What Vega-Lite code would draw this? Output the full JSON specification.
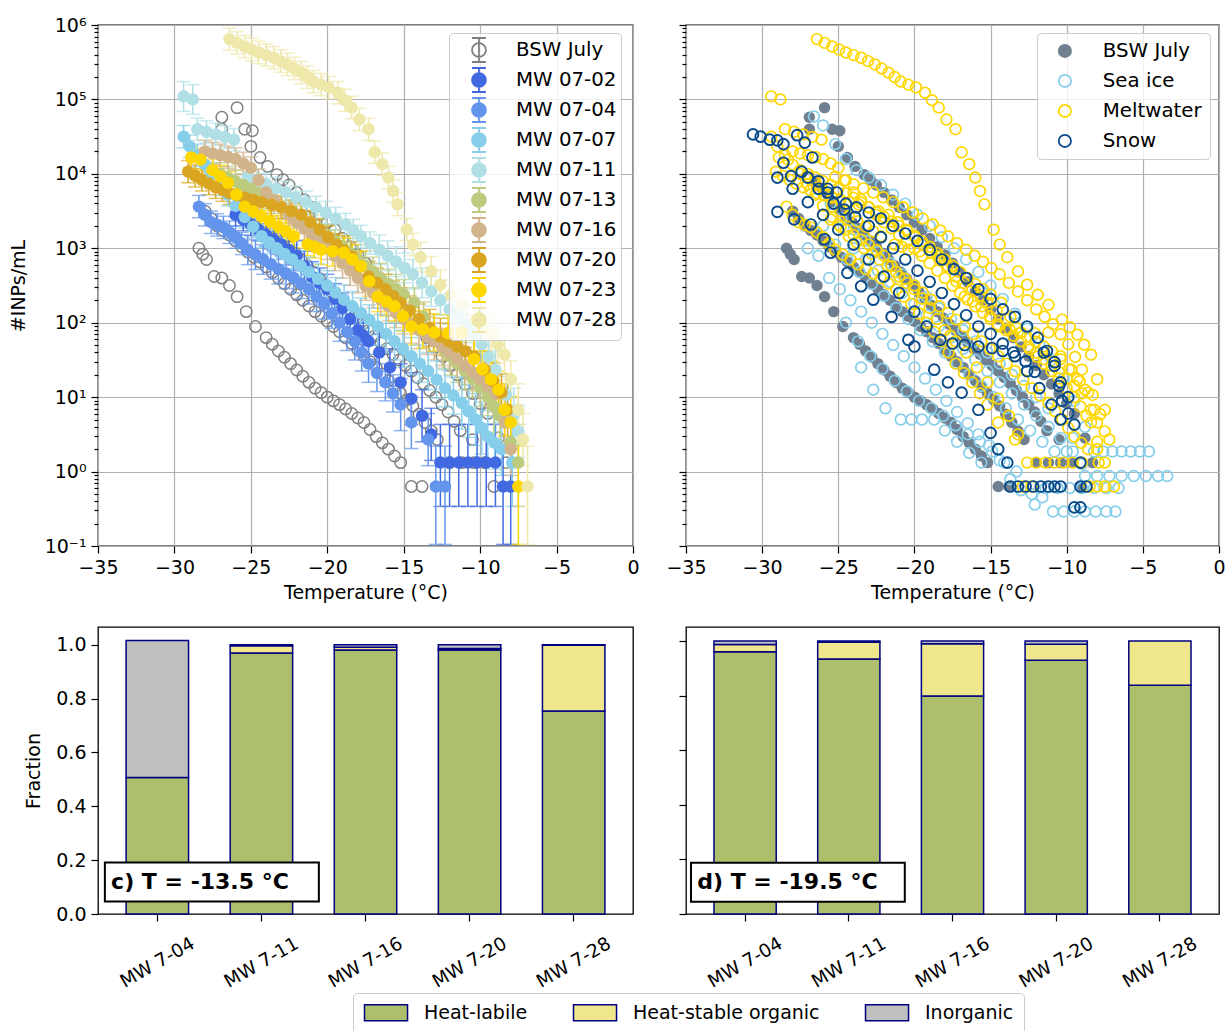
{
"$schema": "https://vega.github.io/schema/vega-lite/v6.json",
"padding": {"left": 8, "top": 15, "right": 0, "bottom": 0},
"background": "white",
"config": {
  "font": "DejaVu Sans",
  "view": {"stroke": "black", "strokeWidth": 1.3},
  "axis": {"labelFont": "DejaVu Sans", "titleFont": "DejaVu Sans", "labelFontSize": 19, "titleFontSize": 19, "titleFontWeight": "normal", "labelColor": "black", "titleColor": "black", "tickColor": "black", "tickWidth": 1.2, "tickSize": 7, "labelPadding": 5, "domain": false, "grid": false, "gridColor": "#b0b0b0", "gridWidth": 1.2, "labelOverlap": false, "labelFlush": false},
  "legend": {"labelFont": "DejaVu Sans", "labelFontSize": 19, "labelColor": "black", "labelLimit": 400}
},
"datasets": {
"bsw": [
{"t":-26.9,"v":57500},{"t":-26.9,"v":39800},{"t":-25.9,"v":77600},{"t":-25.4,"v":39800},{"t":-24.9,"v":38000},{"t":-25.0,"v":23400},{"t":-24.4,"v":16600},{"t":-23.9,"v":12600},{"t":-23.3,"v":9770},{"t":-22.9,"v":8320},{"t":-22.5,"v":7080},{"t":-22.0,"v":5620},{"t":-21.5,"v":4470},{"t":-21.0,"v":3550},{"t":-20.5,"v":2820},{"t":-20.0,"v":2240},{"t":-19.5,"v":1780},{"t":-19.0,"v":1360},{"t":-18.5,"v":1050},{"t":-18.0,"v":813},{"t":-17.5,"v":631},{"t":-17.0,"v":473},{"t":-16.5,"v":355},{"t":-16.0,"v":266},{"t":-15.5,"v":200},{"t":-15.0,"v":150},{"t":-14.5,"v":112},{"t":-14.0,"v":84.1},{"t":-13.5,"v":63.1},{"t":-13.0,"v":47.3},{"t":-12.5,"v":35.5},{"t":-12.0,"v":26.6},{"t":-11.5,"v":20.0},{"t":-11.0,"v":15.0},{"t":-10.5,"v":11.2},{"t":-10.0,"v":8.22},{"t":-9.5,"v":6.03},{"t":-8.8,"v":2.82},{"t":-8.3,"v":1.32},
{"t":-28.0,"v":3160},{"t":-27.6,"v":2510},{"t":-27.2,"v":2000},{"t":-26.8,"v":1740},{"t":-26.4,"v":1510},{"t":-26.0,"v":1260},{"t":-25.6,"v":1050},{"t":-25.2,"v":891},{"t":-24.8,"v":759},{"t":-24.4,"v":653},{"t":-24.0,"v":562},{"t":-23.6,"v":473},{"t":-23.2,"v":398},{"t":-22.8,"v":335},{"t":-22.4,"v":282},{"t":-22.0,"v":237},{"t":-21.6,"v":200},{"t":-21.2,"v":168},{"t":-20.8,"v":141},{"t":-20.4,"v":122},{"t":-20.0,"v":105},{"t":-19.6,"v":89.1},{"t":-19.2,"v":75.9},{"t":-18.8,"v":63.1},{"t":-18.4,"v":52.5},{"t":-18.0,"v":43.2},{"t":-17.6,"v":35.5},{"t":-17.2,"v":29.9},{"t":-16.8,"v":25.1},{"t":-16.4,"v":20.4},{"t":-16.0,"v":16.6},{"t":-15.6,"v":13.6},{"t":-15.2,"v":11.2},{"t":-14.8,"v":9.23},{"t":-14.4,"v":7.59},{"t":-14.0,"v":5.89},{"t":-13.6,"v":4.57},{"t":-13.2,"v":3.51},{"t":-12.8,"v":2.69},{"t":-12.0,"v":1.32},{"t":-11.2,"v":1.32},{"t":-10.4,"v":1.32},
{"t":-28.4,"v":1000},{"t":-28.15,"v":832},{"t":-27.9,"v":708},{"t":-27.4,"v":417},{"t":-26.9,"v":398},{"t":-26.4,"v":316},{"t":-25.9,"v":224},{"t":-25.3,"v":141},{"t":-24.7,"v":89.1},{"t":-24.0,"v":63.1},{"t":-23.6,"v":51.3},{"t":-23.2,"v":41.7},{"t":-22.8,"v":34.3},{"t":-22.4,"v":28.2},{"t":-22.0,"v":23.2},{"t":-21.6,"v":19.1},{"t":-21.2,"v":15.8},{"t":-20.8,"v":13.2},{"t":-20.4,"v":11.5},{"t":-20.0,"v":10.0},{"t":-19.6,"v":8.91},{"t":-19.2,"v":7.94},{"t":-18.8,"v":6.92},{"t":-18.4,"v":6.03},{"t":-18.0,"v":5.25},{"t":-17.6,"v":4.57},{"t":-17.2,"v":3.67},{"t":-16.8,"v":2.95},{"t":-16.4,"v":2.43},{"t":-16.0,"v":2.00},{"t":-15.6,"v":1.62},{"t":-15.2,"v":1.32},{"t":-14.5,"v":0.63},{"t":-13.8,"v":0.63},
{"t":-26.5,"v":7940},{"t":-26.1,"v":6460},{"t":-25.7,"v":5250},{"t":-25.3,"v":4170},{"t":-24.9,"v":3310},{"t":-24.5,"v":2720},{"t":-24.1,"v":2240},{"t":-23.7,"v":1840},{"t":-23.3,"v":1510},{"t":-22.9,"v":1260},{"t":-22.5,"v":1050},{"t":-22.1,"v":861},{"t":-21.7,"v":708},{"t":-21.3,"v":582},{"t":-20.9,"v":479},{"t":-20.5,"v":389},{"t":-20.1,"v":316},{"t":-19.7,"v":257},{"t":-19.3,"v":209},{"t":-18.9,"v":172},{"t":-18.5,"v":141},{"t":-18.1,"v":116},{"t":-17.7,"v":95.5},{"t":-17.3,"v":79.4},{"t":-16.9,"v":66.1},{"t":-16.5,"v":54.3},{"t":-16.1,"v":44.7},{"t":-15.7,"v":37.6},{"t":-15.3,"v":31.6},{"t":-14.9,"v":26.6},{"t":-14.5,"v":22.4},{"t":-14.1,"v":18.4},{"t":-13.7,"v":15.1},{"t":-13.3,"v":12.3},{"t":-12.9,"v":10.0},{"t":-12.5,"v":7.94},{"t":-12.1,"v":6.31},{"t":-11.7,"v":4.73},{"t":-11.3,"v":3.55},{"t":-10.5,"v":2.69},{"t":-9.7,"v":1.32},{"t":-9.1,"v":0.63}
],
"mw": [
{"s":"MW 07-02","t":-26.0,"v":2820,"lo":2000,"hi":3980},{"s":"MW 07-02","t":-25.5,"v":2430,"lo":1720,"hi":3430},{"s":"MW 07-02","t":-25.0,"v":2090,"lo":1480,"hi":2950},{"s":"MW 07-02","t":-24.5,"v":1780,"lo":1260,"hi":2510},{"s":"MW 07-02","t":-24.0,"v":1510,"lo":1070,"hi":2140},{"s":"MW 07-02","t":-23.5,"v":1300,"lo":923,"hi":1840},{"s":"MW 07-02","t":-23.0,"v":1120,"lo":794,"hi":1580},{"s":"MW 07-02","t":-22.5,"v":944,"lo":596,"hi":1500},{"s":"MW 07-02","t":-22.0,"v":794,"lo":501,"hi":1260},{"s":"MW 07-02","t":-21.5,"v":575,"lo":363,"hi":912},{"s":"MW 07-02","t":-21.0,"v":417,"lo":263,"hi":661},{"s":"MW 07-02","t":-20.5,"v":343,"lo":216,"hi":543},{"s":"MW 07-02","t":-20.0,"v":282,"lo":178,"hi":447},{"s":"MW 07-02","t":-19.5,"v":211,"lo":133,"hi":335},{"s":"MW 07-02","t":-19.0,"v":158,"lo":100,"hi":251},{"s":"MW 07-02","t":-18.5,"v":112,"lo":70.8,"hi":178},{"s":"MW 07-02","t":-18.0,"v":79.4,"lo":44.7,"hi":141},{"s":"MW 07-02","t":-17.65,"v":66.8,"lo":37.6,"hi":119},{"s":"MW 07-02","t":-17.3,"v":56.2,"lo":31.6,"hi":100},{"s":"MW 07-02","t":-16.6,"v":39.8,"lo":22.4,"hi":70.8},{"s":"MW 07-02","t":-15.9,"v":25.1,"lo":14.1,"hi":44.7},{"s":"MW 07-02","t":-15.2,"v":15.8,"lo":8.91,"hi":28.2},{"s":"MW 07-02","t":-14.5,"v":9.55,"lo":4.27,"hi":21.4},{"s":"MW 07-02","t":-13.8,"v":5.62,"lo":2.51,"hi":12.6},{"s":"MW 07-02","t":-13.2,"v":3.16,"lo":1.41,"hi":7.08},{"s":"MW 07-02","t":-12.6,"v":1.32,"lo":0.34,"hi":4.3},{"s":"MW 07-02","t":-12.0,"v":1.32,"lo":0.34,"hi":4.3},{"s":"MW 07-02","t":-11.4,"v":1.32,"lo":0.34,"hi":4.3},{"s":"MW 07-02","t":-10.8,"v":1.32,"lo":0.34,"hi":4.3},{"s":"MW 07-02","t":-10.2,"v":1.32,"lo":0.34,"hi":4.3},{"s":"MW 07-02","t":-9.6,"v":1.32,"lo":0.34,"hi":4.3},{"s":"MW 07-02","t":-9.0,"v":1.32,"lo":0.34,"hi":4.3},{"s":"MW 07-02","t":-8.5,"v":0.63,"lo":0.105,"hi":2.2},{"s":"MW 07-02","t":-8.0,"v":0.63,"lo":0.105,"hi":2.2},
{"s":"MW 07-04","t":-28.4,"v":3630,"lo":2570,"hi":5130},{"s":"MW 07-04","t":-28.0,"v":2820,"lo":2000,"hi":3980},{"s":"MW 07-04","t":-27.6,"v":2240,"lo":1580,"hi":3160},{"s":"MW 07-04","t":-27.2,"v":2070,"lo":1460,"hi":2920},{"s":"MW 07-04","t":-26.8,"v":1910,"lo":1350,"hi":2690},{"s":"MW 07-04","t":-26.4,"v":1640,"lo":1160,"hi":2320},{"s":"MW 07-04","t":-26.0,"v":1410,"lo":1000,"hi":2000},{"s":"MW 07-04","t":-25.6,"v":1160,"lo":823,"hi":1640},{"s":"MW 07-04","t":-25.2,"v":955,"lo":603,"hi":1510},{"s":"MW 07-04","t":-24.7,"v":822,"lo":519,"hi":1300},{"s":"MW 07-04","t":-24.2,"v":708,"lo":447,"hi":1120},{"s":"MW 07-04","t":-23.7,"v":610,"lo":385,"hi":966},{"s":"MW 07-04","t":-23.2,"v":525,"lo":331,"hi":832},{"s":"MW 07-04","t":-22.7,"v":457,"lo":288,"hi":724},{"s":"MW 07-04","t":-22.2,"v":398,"lo":251,"hi":631},{"s":"MW 07-04","t":-21.7,"v":335,"lo":211,"hi":531},{"s":"MW 07-04","t":-21.2,"v":282,"lo":178,"hi":447},{"s":"MW 07-04","t":-20.7,"v":224,"lo":141,"hi":355},{"s":"MW 07-04","t":-20.2,"v":178,"lo":112,"hi":282},{"s":"MW 07-04","t":-19.7,"v":133,"lo":84.1,"hi":211},{"s":"MW 07-04","t":-19.2,"v":100,"lo":56.2,"hi":178},{"s":"MW 07-04","t":-18.7,"v":75.0,"lo":42.2,"hi":133},{"s":"MW 07-04","t":-18.2,"v":56.2,"lo":31.6,"hi":100},{"s":"MW 07-04","t":-17.75,"v":39.8,"lo":22.4,"hi":70.8},{"s":"MW 07-04","t":-17.3,"v":28.2,"lo":15.8,"hi":50.1},{"s":"MW 07-04","t":-16.75,"v":21.1,"lo":11.9,"hi":37.6},{"s":"MW 07-04","t":-16.2,"v":15.8,"lo":8.91,"hi":28.2},{"s":"MW 07-04","t":-15.7,"v":11.2,"lo":6.31,"hi":20.0},{"s":"MW 07-04","t":-15.2,"v":7.94,"lo":3.55,"hi":17.8},{"s":"MW 07-04","t":-14.5,"v":4.57,"lo":2.04,"hi":10.2},{"s":"MW 07-04","t":-13.4,"v":2.69,"lo":1.2,"hi":6.03},{"s":"MW 07-04","t":-12.9,"v":0.63,"lo":0.105,"hi":2.2},{"s":"MW 07-04","t":-12.3,"v":0.63,"lo":0.105,"hi":2.2},
{"s":"MW 07-07","t":-29.4,"v":31600,"lo":22400,"hi":44700},{"s":"MW 07-07","t":-29.0,"v":23400,"lo":16600,"hi":33100},{"s":"MW 07-07","t":-28.5,"v":17800,"lo":12600,"hi":25100},{"s":"MW 07-07","t":-28.0,"v":13300,"lo":9440,"hi":18800},{"s":"MW 07-07","t":-27.5,"v":10000,"lo":7080,"hi":14100},{"s":"MW 07-07","t":-27.0,"v":7240,"lo":5130,"hi":10200},{"s":"MW 07-07","t":-26.5,"v":5250,"lo":3720,"hi":7410},{"s":"MW 07-07","t":-26.0,"v":3720,"lo":2630,"hi":5250},{"s":"MW 07-07","t":-25.4,"v":2630,"lo":1860,"hi":3720},{"s":"MW 07-07","t":-24.85,"v":1950,"lo":1380,"hi":2750},{"s":"MW 07-07","t":-24.3,"v":1450,"lo":1020,"hi":2040},{"s":"MW 07-07","t":-23.8,"v":1200,"lo":851,"hi":1700},{"s":"MW 07-07","t":-23.3,"v":1000,"lo":708,"hi":1410},{"s":"MW 07-07","t":-22.8,"v":841,"lo":531,"hi":1330},{"s":"MW 07-07","t":-22.3,"v":708,"lo":447,"hi":1120},{"s":"MW 07-07","t":-21.75,"v":582,"lo":367,"hi":923},{"s":"MW 07-07","t":-21.2,"v":479,"lo":302,"hi":759},{"s":"MW 07-07","t":-20.6,"v":389,"lo":245,"hi":617},{"s":"MW 07-07","t":-20.0,"v":316,"lo":200,"hi":501},{"s":"MW 07-07","t":-19.45,"v":254,"lo":160,"hi":403},{"s":"MW 07-07","t":-18.9,"v":204,"lo":129,"hi":324},{"s":"MW 07-07","t":-18.35,"v":166,"lo":105,"hi":263},{"s":"MW 07-07","t":-17.8,"v":135,"lo":85.1,"hi":214},{"s":"MW 07-07","t":-17.25,"v":110,"lo":69.2,"hi":174},{"s":"MW 07-07","t":-16.7,"v":89.1,"lo":50.1,"hi":158},{"s":"MW 07-07","t":-16.15,"v":70.8,"lo":39.8,"hi":126},{"s":"MW 07-07","t":-15.6,"v":56.2,"lo":31.6,"hi":100},{"s":"MW 07-07","t":-15.05,"v":44.7,"lo":25.1,"hi":79.4},{"s":"MW 07-07","t":-14.5,"v":35.5,"lo":20,"hi":63.1},{"s":"MW 07-07","t":-13.95,"v":28.2,"lo":15.8,"hi":50.1},{"s":"MW 07-07","t":-13.4,"v":22.4,"lo":12.6,"hi":39.8},{"s":"MW 07-07","t":-12.85,"v":17.2,"lo":9.66,"hi":30.6},{"s":"MW 07-07","t":-12.3,"v":13.2,"lo":7.41,"hi":23.4},{"s":"MW 07-07","t":-11.75,"v":10.5,"lo":5.89,"hi":18.6},{"s":"MW 07-07","t":-11.2,"v":8.32,"lo":3.72,"hi":18.6},{"s":"MW 07-07","t":-10.75,"v":6.46,"lo":2.88,"hi":14.5},{"s":"MW 07-07","t":-10.3,"v":5.01,"lo":2.24,"hi":11.2},{"s":"MW 07-07","t":-9.9,"v":3.85,"lo":1.72,"hi":8.61},{"s":"MW 07-07","t":-9.5,"v":2.95,"lo":1.32,"hi":6.61},{"s":"MW 07-07","t":-9.05,"v":2.43,"lo":1.08,"hi":5.42},{"s":"MW 07-07","t":-8.6,"v":2.0,"lo":0.89,"hi":4.47},{"s":"MW 07-07","t":-7.9,"v":1.32,"lo":0.34,"hi":4.3},
{"s":"MW 07-11","t":-29.4,"v":110000,"lo":69000,"hi":174000},{"s":"MW 07-11","t":-28.8,"v":100000,"lo":63100,"hi":158000},{"s":"MW 07-11","t":-28.5,"v":39800,"lo":28200,"hi":56200},{"s":"MW 07-11","t":-27.9,"v":36700,"lo":26000,"hi":51900},{"s":"MW 07-11","t":-27.3,"v":33900,"lo":24000,"hi":47900},{"s":"MW 07-11","t":-26.7,"v":31300,"lo":22100,"hi":44200},{"s":"MW 07-11","t":-26.1,"v":28800,"lo":20400,"hi":40700},{"s":"MW 07-11","t":-25.2,"v":9120,"lo":6460,"hi":12900},{"s":"MW 07-11","t":-24.6,"v":8130,"lo":5750,"hi":11500},{"s":"MW 07-11","t":-24.0,"v":7240,"lo":5130,"hi":10200},{"s":"MW 07-11","t":-23.35,"v":6380,"lo":4520,"hi":9020},{"s":"MW 07-11","t":-22.7,"v":5620,"lo":3980,"hi":7940},{"s":"MW 07-11","t":-22.05,"v":4840,"lo":3430,"hi":6840},{"s":"MW 07-11","t":-21.4,"v":4170,"lo":2950,"hi":5890},{"s":"MW 07-11","t":-20.75,"v":3550,"lo":2510,"hi":5010},{"s":"MW 07-11","t":-20.1,"v":3020,"lo":2140,"hi":4270},{"s":"MW 07-11","t":-19.45,"v":2510,"lo":1780,"hi":3550},{"s":"MW 07-11","t":-18.8,"v":2090,"lo":1480,"hi":2950},{"s":"MW 07-11","t":-18.3,"v":1740,"lo":1230,"hi":2450},{"s":"MW 07-11","t":-17.8,"v":1450,"lo":1020,"hi":2040},{"s":"MW 07-11","t":-17.2,"v":1170,"lo":832,"hi":1660},{"s":"MW 07-11","t":-16.6,"v":955,"lo":603,"hi":1510},{"s":"MW 07-11","t":-16.05,"v":794,"lo":501,"hi":1260},{"s":"MW 07-11","t":-15.5,"v":661,"lo":417,"hi":1050},{"s":"MW 07-11","t":-14.95,"v":543,"lo":343,"hi":861},{"s":"MW 07-11","t":-14.4,"v":447,"lo":282,"hi":708},{"s":"MW 07-11","t":-13.8,"v":343,"lo":216,"hi":543},{"s":"MW 07-11","t":-13.2,"v":263,"lo":166,"hi":417},{"s":"MW 07-11","t":-12.6,"v":200,"lo":126,"hi":316},{"s":"MW 07-11","t":-12.0,"v":151,"lo":95.5,"hi":240},{"s":"MW 07-11","t":-11.45,"v":120,"lo":75.9,"hi":191},{"s":"MW 07-11","t":-10.9,"v":95.5,"lo":53.7,"hi":170},{"s":"MW 07-11","t":-10.4,"v":70.0,"lo":39.4,"hi":124},{"s":"MW 07-11","t":-9.9,"v":51.3,"lo":28.8,"hi":91.2},{"s":"MW 07-11","t":-9.45,"v":34.7,"lo":19.5,"hi":61.7},{"s":"MW 07-11","t":-9.0,"v":23.4,"lo":13.2,"hi":41.7},{"s":"MW 07-11","t":-8.3,"v":10.7,"lo":6.03,"hi":19.1},{"s":"MW 07-11","t":-7.8,"v":5.89,"lo":2.63,"hi":13.2},{"s":"MW 07-11","t":-7.5,"v":3.47,"lo":1.55,"hi":7.76},
{"s":"MW 07-13","t":-27.0,"v":10000,"lo":7080,"hi":14100},{"s":"MW 07-13","t":-26.5,"v":8910,"lo":6310,"hi":12600},{"s":"MW 07-13","t":-26.0,"v":7940,"lo":5620,"hi":11200},{"s":"MW 07-13","t":-25.5,"v":7080,"lo":5010,"hi":10000},{"s":"MW 07-13","t":-25.0,"v":6310,"lo":4470,"hi":8910},{"s":"MW 07-13","t":-24.5,"v":5500,"lo":3890,"hi":7760},{"s":"MW 07-13","t":-24.0,"v":4790,"lo":3390,"hi":6760},{"s":"MW 07-13","t":-23.5,"v":4120,"lo":2920,"hi":5830},{"s":"MW 07-13","t":-23.0,"v":3550,"lo":2510,"hi":5010},{"s":"MW 07-13","t":-22.5,"v":3050,"lo":2160,"hi":4320},{"s":"MW 07-13","t":-22.0,"v":2630,"lo":1860,"hi":3720},{"s":"MW 07-13","t":-21.5,"v":2290,"lo":1620,"hi":3240},{"s":"MW 07-13","t":-21.0,"v":2000,"lo":1410,"hi":2820},{"s":"MW 07-13","t":-20.5,"v":1720,"lo":1220,"hi":2430},{"s":"MW 07-13","t":-20.0,"v":1480,"lo":1050,"hi":2090},{"s":"MW 07-13","t":-19.5,"v":1240,"lo":880,"hi":1760},{"s":"MW 07-13","t":-19.0,"v":1050,"lo":741,"hi":1480},{"s":"MW 07-13","t":-18.5,"v":861,"lo":543,"hi":1360},{"s":"MW 07-13","t":-18.0,"v":708,"lo":447,"hi":1120},{"s":"MW 07-13","t":-17.5,"v":582,"lo":367,"hi":923},{"s":"MW 07-13","t":-17.0,"v":479,"lo":302,"hi":759},{"s":"MW 07-13","t":-16.5,"v":398,"lo":251,"hi":631},{"s":"MW 07-13","t":-16.0,"v":331,"lo":209,"hi":525},{"s":"MW 07-13","t":-15.5,"v":282,"lo":178,"hi":447},{"s":"MW 07-13","t":-15.0,"v":240,"lo":151,"hi":380},{"s":"MW 07-13","t":-14.3,"v":186,"lo":117,"hi":295},{"s":"MW 07-13","t":-13.7,"v":120,"lo":75.9,"hi":191},{"s":"MW 07-13","t":-13.05,"v":72.4,"lo":40.7,"hi":129},{"s":"MW 07-13","t":-12.4,"v":43.7,"lo":24.5,"hi":77.6},{"s":"MW 07-13","t":-11.95,"v":35.1,"lo":19.7,"hi":62.4},{"s":"MW 07-13","t":-11.5,"v":28.2,"lo":15.8,"hi":50.1},{"s":"MW 07-13","t":-11.0,"v":22.4,"lo":12.6,"hi":39.8},{"s":"MW 07-13","t":-10.5,"v":17.8,"lo":10,"hi":31.6},{"s":"MW 07-13","t":-10.0,"v":13.3,"lo":7.5,"hi":23.7},{"s":"MW 07-13","t":-9.5,"v":10,"lo":5.62,"hi":17.8},{"s":"MW 07-13","t":-9.1,"v":7.5,"lo":3.35,"hi":16.8},{"s":"MW 07-13","t":-8.7,"v":5.62,"lo":2.51,"hi":12.6},{"s":"MW 07-13","t":-8.0,"v":2.51,"lo":1.12,"hi":5.62},{"s":"MW 07-13","t":-7.5,"v":1.32,"lo":0.34,"hi":4.3},
{"s":"MW 07-16","t":-28.0,"v":20000,"lo":14100,"hi":28200},{"s":"MW 07-16","t":-27.5,"v":18800,"lo":13400,"hi":26600},{"s":"MW 07-16","t":-27.0,"v":17800,"lo":12600,"hi":25100},{"s":"MW 07-16","t":-26.5,"v":16800,"lo":11900,"hi":23700},{"s":"MW 07-16","t":-26.0,"v":15800,"lo":11200,"hi":22400},{"s":"MW 07-16","t":-25.5,"v":13800,"lo":9770,"hi":19500},{"s":"MW 07-16","t":-25.0,"v":12000,"lo":8510,"hi":17000},{"s":"MW 07-16","t":-24.5,"v":8220,"lo":5820,"hi":11600},{"s":"MW 07-16","t":-24.0,"v":5620,"lo":3980,"hi":7940},{"s":"MW 07-16","t":-23.5,"v":4470,"lo":3160,"hi":6310},{"s":"MW 07-16","t":-23.0,"v":3550,"lo":2510,"hi":5010},{"s":"MW 07-16","t":-22.5,"v":2820,"lo":2000,"hi":3980},{"s":"MW 07-16","t":-22.0,"v":2240,"lo":1580,"hi":3160},{"s":"MW 07-16","t":-21.5,"v":1840,"lo":1300,"hi":2600},{"s":"MW 07-16","t":-21.0,"v":1510,"lo":1070,"hi":2140},{"s":"MW 07-16","t":-20.5,"v":1230,"lo":871,"hi":1740},{"s":"MW 07-16","t":-20.0,"v":1000,"lo":708,"hi":1410},{"s":"MW 07-16","t":-19.5,"v":794,"lo":501,"hi":1260},{"s":"MW 07-16","t":-19.0,"v":631,"lo":398,"hi":1000},{"s":"MW 07-16","t":-18.5,"v":501,"lo":316,"hi":794},{"s":"MW 07-16","t":-18.0,"v":398,"lo":251,"hi":631},{"s":"MW 07-16","t":-17.5,"v":316,"lo":200,"hi":501},{"s":"MW 07-16","t":-17.0,"v":251,"lo":158,"hi":398},{"s":"MW 07-16","t":-16.5,"v":204,"lo":129,"hi":324},{"s":"MW 07-16","t":-16.0,"v":166,"lo":105,"hi":263},{"s":"MW 07-16","t":-15.5,"v":136,"lo":86.1,"hi":216},{"s":"MW 07-16","t":-15.0,"v":112,"lo":70.8,"hi":178},{"s":"MW 07-16","t":-14.5,"v":94.4,"lo":53.1,"hi":168},{"s":"MW 07-16","t":-14.0,"v":79.4,"lo":44.7,"hi":141},{"s":"MW 07-16","t":-13.5,"v":66.8,"lo":37.6,"hi":119},{"s":"MW 07-16","t":-13.0,"v":56.2,"lo":31.6,"hi":100},{"s":"MW 07-16","t":-12.5,"v":47.3,"lo":26.6,"hi":84.1},{"s":"MW 07-16","t":-12.0,"v":39.8,"lo":22.4,"hi":70.8},{"s":"MW 07-16","t":-11.5,"v":32.4,"lo":18.2,"hi":57.5},{"s":"MW 07-16","t":-11.0,"v":26.3,"lo":14.8,"hi":46.8},{"s":"MW 07-16","t":-10.5,"v":21.6,"lo":12.2,"hi":38.5},{"s":"MW 07-16","t":-10.0,"v":17.8,"lo":10,"hi":31.6},{"s":"MW 07-16","t":-9.5,"v":14.1,"lo":7.94,"hi":25.1},{"s":"MW 07-16","t":-9.0,"v":11.2,"lo":6.31,"hi":20},{"s":"MW 07-16","t":-8.4,"v":4.57,"lo":2.04,"hi":10.2},{"s":"MW 07-16","t":-8.0,"v":2.0,"lo":0.89,"hi":4.47},
{"s":"MW 07-20","t":-29.1,"v":10700,"lo":7590,"hi":15100},{"s":"MW 07-20","t":-28.65,"v":9440,"lo":6680,"hi":13300},{"s":"MW 07-20","t":-28.2,"v":8320,"lo":5890,"hi":11700},{"s":"MW 07-20","t":-27.75,"v":7410,"lo":5250,"hi":10500},{"s":"MW 07-20","t":-27.3,"v":6610,"lo":4680,"hi":9330},{"s":"MW 07-20","t":-26.85,"v":6030,"lo":4270,"hi":8510},{"s":"MW 07-20","t":-26.4,"v":5500,"lo":3890,"hi":7760},{"s":"MW 07-20","t":-25.9,"v":5130,"lo":3630,"hi":7240},{"s":"MW 07-20","t":-25.4,"v":4790,"lo":3390,"hi":6760},{"s":"MW 07-20","t":-24.85,"v":4470,"lo":3160,"hi":6310},{"s":"MW 07-20","t":-24.3,"v":4170,"lo":2950,"hi":5890},{"s":"MW 07-20","t":-23.65,"v":3850,"lo":2720,"hi":5430},{"s":"MW 07-20","t":-23.0,"v":3550,"lo":2510,"hi":5010},{"s":"MW 07-20","t":-22.35,"v":3160,"lo":2240,"hi":4470},{"s":"MW 07-20","t":-21.7,"v":2820,"lo":2000,"hi":3980},{"s":"MW 07-20","t":-21.1,"v":2240,"lo":1580,"hi":3160},{"s":"MW 07-20","t":-20.5,"v":1780,"lo":1260,"hi":2510},{"s":"MW 07-20","t":-19.95,"v":1410,"lo":1000,"hi":2000},{"s":"MW 07-20","t":-19.4,"v":1120,"lo":794,"hi":1580},{"s":"MW 07-20","t":-18.9,"v":933,"lo":589,"hi":1480},{"s":"MW 07-20","t":-18.4,"v":776,"lo":490,"hi":1230},{"s":"MW 07-20","t":-17.85,"v":569,"lo":359,"hi":902},{"s":"MW 07-20","t":-17.3,"v":417,"lo":263,"hi":661},{"s":"MW 07-20","t":-16.75,"v":343,"lo":216,"hi":543},{"s":"MW 07-20","t":-16.2,"v":282,"lo":178,"hi":447},{"s":"MW 07-20","t":-15.7,"v":229,"lo":145,"hi":363},{"s":"MW 07-20","t":-15.2,"v":186,"lo":117,"hi":295},{"s":"MW 07-20","t":-14.6,"v":145,"lo":91.2,"hi":229},{"s":"MW 07-20","t":-14.0,"v":112,"lo":70.8,"hi":178},{"s":"MW 07-20","t":-13.3,"v":85.1,"lo":47.9,"hi":151},{"s":"MW 07-20","t":-12.6,"v":64.6,"lo":36.3,"hi":115},{"s":"MW 07-20","t":-12.05,"v":55.6,"lo":31.3,"hi":98.9},{"s":"MW 07-20","t":-11.5,"v":47.9,"lo":26.9,"hi":85.1},{"s":"MW 07-20","t":-10.95,"v":41.2,"lo":23.2,"hi":73.3},{"s":"MW 07-20","t":-10.4,"v":35.5,"lo":20,"hi":63.1},{"s":"MW 07-20","t":-9.7,"v":23.4,"lo":13.2,"hi":41.7},{"s":"MW 07-20","t":-9.15,"v":16.4,"lo":9.23,"hi":29.2},{"s":"MW 07-20","t":-8.6,"v":11.5,"lo":6.46,"hi":20.4},{"s":"MW 07-20","t":-8.2,"v":6.76,"lo":3.02,"hi":15.1},
{"s":"MW 07-23","t":-28.9,"v":16600,"lo":11700,"hi":23400},{"s":"MW 07-23","t":-28.3,"v":15500,"lo":11000,"hi":21900},{"s":"MW 07-23","t":-27.5,"v":11200,"lo":7940,"hi":15800},{"s":"MW 07-23","t":-27.0,"v":9230,"lo":6530,"hi":13000},{"s":"MW 07-23","t":-26.5,"v":7590,"lo":5370,"hi":10700},{"s":"MW 07-23","t":-25.95,"v":5250,"lo":3720,"hi":7410},{"s":"MW 07-23","t":-25.4,"v":3630,"lo":2570,"hi":5130},{"s":"MW 07-23","t":-24.85,"v":3130,"lo":2210,"hi":4410},{"s":"MW 07-23","t":-24.3,"v":2690,"lo":1910,"hi":3800},{"s":"MW 07-23","t":-23.75,"v":2290,"lo":1620,"hi":3240},{"s":"MW 07-23","t":-23.2,"v":1950,"lo":1380,"hi":2750},{"s":"MW 07-23","t":-22.7,"v":1680,"lo":1190,"hi":2370},{"s":"MW 07-23","t":-22.2,"v":1450,"lo":1020,"hi":2040},{"s":"MW 07-23","t":-21.3,"v":1120,"lo":794,"hi":1580},{"s":"MW 07-23","t":-20.85,"v":1050,"lo":741,"hi":1480},{"s":"MW 07-23","t":-20.4,"v":955,"lo":603,"hi":1510},{"s":"MW 07-23","t":-19.65,"v":912,"lo":575,"hi":1450},{"s":"MW 07-23","t":-18.9,"v":871,"lo":550,"hi":1380},{"s":"MW 07-23","t":-18.35,"v":708,"lo":447,"hi":1120},{"s":"MW 07-23","t":-17.8,"v":575,"lo":363,"hi":912},{"s":"MW 07-23","t":-17.25,"v":359,"lo":227,"hi":569},{"s":"MW 07-23","t":-16.7,"v":224,"lo":141,"hi":355},{"s":"MW 07-23","t":-16.15,"v":193,"lo":122,"hi":305},{"s":"MW 07-23","t":-15.6,"v":166,"lo":105,"hi":263},{"s":"MW 07-23","t":-15.05,"v":122,"lo":76.7,"hi":193},{"s":"MW 07-23","t":-14.5,"v":89.1,"lo":50.1,"hi":158},{"s":"MW 07-23","t":-13.75,"v":81.3,"lo":45.7,"hi":145},{"s":"MW 07-23","t":-13.0,"v":74.1,"lo":41.7,"hi":132},{"s":"MW 07-23","t":-12.1,"v":72.4,"lo":40.7,"hi":129},{"s":"MW 07-23","t":-11.2,"v":74.1,"lo":41.7,"hi":132},{"s":"MW 07-23","t":-10.4,"v":32.4,"lo":18.2,"hi":57.5},{"s":"MW 07-23","t":-9.85,"v":23.7,"lo":13.3,"hi":42.2},{"s":"MW 07-23","t":-9.3,"v":17.4,"lo":9.77,"hi":30.9},{"s":"MW 07-23","t":-8.8,"v":12.6,"lo":7.08,"hi":22.4},{"s":"MW 07-23","t":-8.4,"v":6.76,"lo":3.02,"hi":15.1},{"s":"MW 07-23","t":-8.0,"v":4.57,"lo":2.04,"hi":10.2},{"s":"MW 07-23","t":-7.5,"v":0.63,"lo":0.105,"hi":2.2},
{"s":"MW 07-28","t":-26.4,"v":646000,"lo":457000,"hi":912000},{"s":"MW 07-28","t":-25.9,"v":575000,"lo":407000,"hi":813000},{"s":"MW 07-28","t":-25.4,"v":513000,"lo":363000,"hi":724000},{"s":"MW 07-28","t":-24.95,"v":468000,"lo":331000,"hi":661000},{"s":"MW 07-28","t":-24.5,"v":427000,"lo":302000,"hi":603000},{"s":"MW 07-28","t":-24.0,"v":394000,"lo":279000,"hi":556000},{"s":"MW 07-28","t":-23.5,"v":363000,"lo":257000,"hi":513000},{"s":"MW 07-28","t":-23.05,"v":327000,"lo":232000,"hi":463000},{"s":"MW 07-28","t":-22.6,"v":295000,"lo":209000,"hi":417000},{"s":"MW 07-28","t":-22.15,"v":260000,"lo":184000,"hi":368000},{"s":"MW 07-28","t":-21.7,"v":229000,"lo":162000,"hi":324000},{"s":"MW 07-28","t":-21.3,"v":200000,"lo":141000,"hi":282000},{"s":"MW 07-28","t":-20.9,"v":174000,"lo":123000,"hi":245000},{"s":"MW 07-28","t":-20.4,"v":158000,"lo":112000,"hi":224000},{"s":"MW 07-28","t":-19.9,"v":145000,"lo":102000,"hi":204000},{"s":"MW 07-28","t":-19.3,"v":123000,"lo":87100,"hi":174000},{"s":"MW 07-28","t":-18.85,"v":97700,"lo":69200,"hi":138000},{"s":"MW 07-28","t":-18.4,"v":77600,"lo":55000,"hi":110000},{"s":"MW 07-28","t":-17.9,"v":53700,"lo":38000,"hi":75900},{"s":"MW 07-28","t":-17.3,"v":39800,"lo":28200,"hi":56200},{"s":"MW 07-28","t":-16.9,"v":19500,"lo":13800,"hi":27500},{"s":"MW 07-28","t":-16.4,"v":13500,"lo":9550,"hi":19100},{"s":"MW 07-28","t":-16.0,"v":8910,"lo":6310,"hi":12600},{"s":"MW 07-28","t":-15.7,"v":5890,"lo":4170,"hi":8320},{"s":"MW 07-28","t":-15.4,"v":3890,"lo":2750,"hi":5500},{"s":"MW 07-28","t":-14.8,"v":1780,"lo":1260,"hi":2510},{"s":"MW 07-28","t":-14.4,"v":1120,"lo":794,"hi":1580},{"s":"MW 07-28","t":-13.9,"v":759,"lo":479,"hi":1200},{"s":"MW 07-28","t":-13.2,"v":490,"lo":309,"hi":776},{"s":"MW 07-28","t":-12.6,"v":324,"lo":204,"hi":513},{"s":"MW 07-28","t":-11.9,"v":237,"lo":150,"hi":376},{"s":"MW 07-28","t":-11.2,"v":174,"lo":110,"hi":275},{"s":"MW 07-28","t":-10.3,"v":110,"lo":69.2,"hi":174},{"s":"MW 07-28","t":-9.8,"v":87.1,"lo":49.0,"hi":155},{"s":"MW 07-28","t":-9.3,"v":69.2,"lo":38.9,"hi":123},{"s":"MW 07-28","t":-8.85,"v":50.7,"lo":28.5,"hi":90.2},{"s":"MW 07-28","t":-8.4,"v":37.2,"lo":20.9,"hi":66.1},{"s":"MW 07-28","t":-8.0,"v":17.4,"lo":9.77,"hi":30.9},{"s":"MW 07-28","t":-7.5,"v":6.76,"lo":3.02,"hi":15.1},{"s":"MW 07-28","t":-7.2,"v":2.69,"lo":1.2,"hi":6.03},{"s":"MW 07-28","t":-6.9,"v":0.63,"lo":0.105,"hi":2.2}
],
"ice": [
{"t":-26.6,"v":58900},{"t":-26.0,"v":44700},{"t":-25.2,"v":25100},{"t":-24.5,"v":15800},{"t":-23.8,"v":11200},{"t":-23.0,"v":8910},{"t":-22.2,"v":7080},{"t":-21.4,"v":5250},{"t":-20.6,"v":3980},{"t":-19.8,"v":2820},{"t":-19.0,"v":2000},{"t":-18.2,"v":1410},{"t":-17.4,"v":1000},{"t":-16.6,"v":708},{"t":-15.8,"v":479},{"t":-15.0,"v":316},{"t":-14.2,"v":209},{"t":-13.4,"v":132},{"t":-12.6,"v":83.2},{"t":-11.8,"v":52.5},{"t":-11.0,"v":31.6},{"t":-10.2,"v":17.8},{"t":-9.5,"v":8.91},{"t":-8.8,"v":3.98},{"t":-8.2,"v":1.86},{"t":-7.6,"v":1.86},{"t":-7.0,"v":1.86},{"t":-6.4,"v":1.86},{"t":-5.8,"v":1.86},{"t":-5.2,"v":1.86},{"t":-4.6,"v":1.86},
{"t":-25.5,"v":3980},{"t":-24.8,"v":2510},{"t":-24.0,"v":1780},{"t":-23.2,"v":1260},{"t":-22.4,"v":891},{"t":-21.6,"v":631},{"t":-20.8,"v":447},{"t":-20.0,"v":316},{"t":-19.2,"v":224},{"t":-18.4,"v":158},{"t":-17.6,"v":112},{"t":-16.8,"v":79.4},{"t":-16.0,"v":56.2},{"t":-15.2,"v":39.8},{"t":-14.4,"v":28.2},{"t":-13.6,"v":20.0},{"t":-12.8,"v":14.1},{"t":-12.0,"v":10.0},{"t":-11.2,"v":7.08},{"t":-10.4,"v":5.01},{"t":-9.6,"v":2.82},{"t":-8.8,"v":0.87},{"t":-8.0,"v":0.87},{"t":-7.2,"v":0.87},{"t":-6.4,"v":0.87},{"t":-5.6,"v":0.87},{"t":-4.8,"v":0.87},{"t":-4.0,"v":0.87},{"t":-3.4,"v":0.87},
{"t":-27.0,"v":1000},{"t":-26.3,"v":794},{"t":-25.6,"v":398},{"t":-24.9,"v":282},{"t":-24.2,"v":200},{"t":-23.5,"v":141},{"t":-22.8,"v":100},{"t":-22.1,"v":70.8},{"t":-21.4,"v":50.1},{"t":-20.7,"v":35.5},{"t":-20.0,"v":25.1},{"t":-19.3,"v":17.8},{"t":-18.6,"v":12.6},{"t":-17.9,"v":8.91},{"t":-17.2,"v":6.31},{"t":-16.5,"v":4.47},{"t":-15.8,"v":3.16},{"t":-15.1,"v":2.24},{"t":-14.4,"v":1.41},{"t":-13.7,"v":0.79},{"t":-13.0,"v":0.56},{"t":-12.3,"v":0.5},{"t":-11.6,"v":0.45},{"t":-10.9,"v":0.29},{"t":-10.2,"v":0.29},{"t":-9.5,"v":0.29},{"t":-8.8,"v":0.29},{"t":-8.1,"v":0.29},{"t":-7.4,"v":0.29},{"t":-6.8,"v":0.29},
{"t":-23.5,"v":25.1},{"t":-22.7,"v":12.6},{"t":-21.9,"v":7.08},{"t":-20.9,"v":5.01},{"t":-20.2,"v":5.01},{"t":-19.5,"v":5.01},{"t":-18.7,"v":5.01},{"t":-18.0,"v":3.55},{"t":-17.2,"v":2.51},{"t":-16.4,"v":1.78},{"t":-15.6,"v":1.32},
{"t":-24.0,"v":1000},{"t":-23.2,"v":708},{"t":-22.4,"v":501},{"t":-21.6,"v":355},{"t":-20.8,"v":251},{"t":-20.0,"v":178},{"t":-19.2,"v":126},{"t":-18.4,"v":89.1},{"t":-17.6,"v":63.1},{"t":-16.8,"v":44.7},{"t":-16.0,"v":31.6},{"t":-15.2,"v":22.4},{"t":-14.4,"v":15.8},{"t":-13.6,"v":11.2},{"t":-12.8,"v":7.94},{"t":-12.0,"v":5.62},{"t":-11.2,"v":3.98},{"t":-10.4,"v":2.82},{"t":-9.6,"v":1.86},{"t":-9.0,"v":1.26},
{"t":-26.0,"v":2000},{"t":-25.2,"v":1120},{"t":-24.4,"v":708},{"t":-23.6,"v":479},{"t":-22.8,"v":331},{"t":-22.0,"v":229},{"t":-21.2,"v":158},{"t":-20.4,"v":112},{"t":-19.6,"v":79.4},{"t":-18.8,"v":56.2},{"t":-18.0,"v":39.8},{"t":-17.2,"v":28.2},{"t":-16.4,"v":20.0},{"t":-15.6,"v":14.1},{"t":-14.8,"v":10.0},{"t":-14.0,"v":7.08},{"t":-13.2,"v":5.01},{"t":-12.4,"v":3.55},{"t":-11.6,"v":2.51},{"t":-10.8,"v":1.86},{"t":-10.0,"v":1.86},
{"t":-24.5,"v":100},{"t":-23.7,"v":56.2},{"t":-22.9,"v":35.5},{"t":-22.1,"v":24.0},{"t":-21.3,"v":16.6},{"t":-20.5,"v":12.0},{"t":-19.7,"v":8.91},{"t":-18.9,"v":7.08},{"t":-18.1,"v":5.62},{"t":-17.3,"v":4.17},{"t":-16.5,"v":3.16},{"t":-15.7,"v":2.51},{"t":-14.9,"v":1.86},{"t":-14.1,"v":1.32},{"t":-13.3,"v":1.0},
{"t":-12.1,"v":0.36},{"t":-11.4,"v":0.6},{"t":-10.6,"v":0.6},{"t":-9.8,"v":0.6},{"t":-9.0,"v":0.6},{"t":-8.2,"v":0.6},{"t":-7.4,"v":0.6},{"t":-6.6,"v":0.6}
],
"snow": [
{"t":-30.6,"v":33900},{"t":-30.1,"v":31600},{"t":-29.5,"v":28800},{"t":-29.0,"v":28200},{"t":-28.6,"v":25100},{"t":-27.7,"v":33100},{"t":-27.2,"v":26300},{"t":-26.7,"v":16600},{"t":-26.3,"v":7940},{"t":-25.7,"v":5620},{"t":-25.1,"v":5620},{"t":-24.5,"v":3980},{"t":-23.8,"v":3550},{"t":-23.0,"v":3020},{"t":-22.2,"v":2510},{"t":-21.4,"v":2000},{"t":-20.6,"v":1580},{"t":-19.8,"v":1260},{"t":-19.0,"v":955},{"t":-18.2,"v":708},{"t":-17.4,"v":525},{"t":-16.6,"v":398},{"t":-15.8,"v":282},{"t":-15.0,"v":209},{"t":-14.2,"v":151},{"t":-13.4,"v":120},{"t":-12.6,"v":89.1},{"t":-11.9,"v":63.1},{"t":-11.3,"v":41.7},{"t":-10.8,"v":26.3},{"t":-10.5,"v":14.1},{"t":-10.3,"v":8.91},{"t":-9.9,"v":6.03},
{"t":-29.0,"v":3090},{"t":-27.9,"v":2450},{"t":-26.8,"v":2090},{"t":-25.9,"v":1320},{"t":-25.5,"v":871},{"t":-24.4,"v":468},{"t":-23.5,"v":309},{"t":-22.7,"v":204},{"t":-21.5,"v":120},{"t":-20.4,"v":58.9},{"t":-20.0,"v":47.9},{"t":-18.7,"v":23.4},{"t":-17.8,"v":15.8},{"t":-16.9,"v":11.5},{"t":-15.8,"v":6.76},{"t":-15.0,"v":3.31},{"t":-14.5,"v":2.0},{"t":-13.9,"v":1.32},{"t":-13.7,"v":0.63},{"t":-13.2,"v":0.63},{"t":-12.7,"v":0.63},{"t":-12.2,"v":0.63},{"t":-11.7,"v":0.63},{"t":-11.2,"v":0.63},{"t":-10.8,"v":0.63},{"t":-10.4,"v":0.63},{"t":-9.1,"v":0.63},{"t":-8.7,"v":0.63},{"t":-9.5,"v":0.33},{"t":-9.1,"v":0.33},
{"t":-29.0,"v":8910},{"t":-28.0,"v":6310},{"t":-27.0,"v":4170},{"t":-26.0,"v":2820},{"t":-25.0,"v":1780},{"t":-24.0,"v":1120},{"t":-23.0,"v":708},{"t":-22.0,"v":417},{"t":-21.0,"v":251},{"t":-20.0,"v":141},{"t":-19.2,"v":89.1},{"t":-18.3,"v":58.9},{"t":-17.5,"v":52.5},{"t":-16.7,"v":50.1},{"t":-15.8,"v":47.9},{"t":-14.9,"v":45.7},{"t":-14.2,"v":41.7},{"t":-13.5,"v":39.8},{"t":-12.7,"v":30.2},{"t":-12.1,"v":21.9},{"t":-11.5,"v":39.8},{"t":-10.8,"v":29.5},{"t":-10.4,"v":15.8},{"t":-9.9,"v":10.0},{"t":-9.5,"v":4.27},{"t":-9.1,"v":1.32},
{"t":-28.6,"v":14100},{"t":-28.1,"v":9330},{"t":-27.4,"v":10700},{"t":-27.0,"v":8910},{"t":-26.3,"v":6310},{"t":-25.7,"v":6310},{"t":-25.3,"v":3980},{"t":-24.6,"v":3310},{"t":-23.9,"v":2630},{"t":-23.0,"v":2000},{"t":-22.2,"v":1410},{"t":-21.4,"v":1000},{"t":-20.6,"v":708},{"t":-19.8,"v":501},{"t":-19.0,"v":355},{"t":-18.2,"v":251},{"t":-17.4,"v":178},{"t":-16.6,"v":126},{"t":-15.8,"v":89.1},{"t":-15.0,"v":70.8},{"t":-14.2,"v":52.5},{"t":-13.4,"v":35.5},{"t":-12.6,"v":22.4},{"t":-11.8,"v":13.2},{"t":-11.0,"v":7.94},{"t":-10.4,"v":5.01}
],
"fc": [
{"x":"MW 7-04","k":"Heat-labile","f":0.507},{"x":"MW 7-04","k":"Inorganic","f":0.509},
{"x":"MW 7-11","k":"Heat-labile","f":0.969},{"x":"MW 7-11","k":"Heat-stable organic","f":0.027},{"x":"MW 7-11","k":"Inorganic","f":0.004},
{"x":"MW 7-16","k":"Heat-labile","f":0.981},{"x":"MW 7-16","k":"Heat-stable organic","f":0.010},{"x":"MW 7-16","k":"Inorganic","f":0.009},
{"x":"MW 7-20","k":"Heat-labile","f":0.981},{"x":"MW 7-20","k":"Heat-stable organic","f":0.005},{"x":"MW 7-20","k":"Inorganic","f":0.014},
{"x":"MW 7-28","k":"Heat-labile","f":0.754},{"x":"MW 7-28","k":"Heat-stable organic","f":0.244},{"x":"MW 7-28","k":"Inorganic","f":0.002}
],
"fd": [
{"x":"MW 7-04","k":"Heat-labile","f":0.960},{"x":"MW 7-04","k":"Heat-stable organic","f":0.027},{"x":"MW 7-04","k":"Inorganic","f":0.013},
{"x":"MW 7-11","k":"Heat-labile","f":0.934},{"x":"MW 7-11","k":"Heat-stable organic","f":0.061},{"x":"MW 7-11","k":"Inorganic","f":0.005},
{"x":"MW 7-16","k":"Heat-labile","f":0.798},{"x":"MW 7-16","k":"Heat-stable organic","f":0.192},{"x":"MW 7-16","k":"Inorganic","f":0.010},
{"x":"MW 7-20","k":"Heat-labile","f":0.929},{"x":"MW 7-20","k":"Heat-stable organic","f":0.059},{"x":"MW 7-20","k":"Inorganic","f":0.012},
{"x":"MW 7-28","k":"Heat-labile","f":0.838},{"x":"MW 7-28","k":"Heat-stable organic","f":0.162}
]
},
"columns": 2,
"spacing": {"row": 81, "column": 53},
"bounds": "flush",
"resolve": {"scale": {"color": "independent", "fill": "independent", "stroke": "independent", "x": "independent", "y": "independent"}, "legend": {"color": "independent", "fill": "independent", "stroke": "independent"}},
"concat": [
{
  "width": 535, "height": 521,
  "encoding": {
    "x": {"field": "t", "type": "quantitative", "scale": {"domain": [-35, 0], "nice": false, "zero": false}, "axis": {"values": [-35,-30,-25,-20,-15,-10,-5,0], "grid": true, "title": "Temperature (°C)", "titlePadding": 6, "labelExpr": "replace(datum.label, '-', '−')"}},
    "y": {"field": "v", "type": "quantitative", "scale": {"type": "log", "domain": [0.1, 1000000], "nice": false}, "axis": {"title": "#INPs/mL", "titlePadding": 16, "grid": true,
      "values": [0.1,0.2,0.3,0.4,0.5,0.6,0.7,0.8,0.9,1,2,3,4,5,6,7,8,9,10,20,30,40,50,60,70,80,90,100,200,300,400,500,600,700,800,900,1000,2000,3000,4000,5000,6000,7000,8000,9000,10000,20000,30000,40000,50000,60000,70000,80000,90000,100000,200000,300000,400000,500000,600000,700000,800000,900000,1000000],
      "labelExpr": "{'0.1':'10⁻¹','1':'10⁰','10':'10¹','100':'10²','1000':'10³','10000':'10⁴','100000':'10⁵','1000000':'10⁶'}[datum.value + ''] || ''",
      "tickSize": {"condition": {"test": "indexof([0.1,1,10,100,1000,10000,100000,1000000], datum.value) >= 0", "value": 7}, "value": 4},
      "gridOpacity": {"condition": {"test": "indexof([0.1,1,10,100,1000,10000,100000,1000000], datum.value) >= 0", "value": 1}, "value": 0}}}
  },
  "layer": [
    {"data": {"name": "bsw"}, "mark": {"type": "point", "shape": "circle", "filled": false, "size": 130, "strokeWidth": 1.5, "opacity": 1, "clip": true},
     "encoding": {"stroke": {"datum": "BSW July", "type": "nominal",
        "scale": {"domain": ["BSW July","MW 07-02","MW 07-04","MW 07-07","MW 07-11","MW 07-13","MW 07-16","MW 07-20","MW 07-23","MW 07-28"], "range": ["#808080","#4169e1","#6495ed","#87ceeb","#b0e0e6","#bccb7e","#d2b48c","#daa520","#ffd700","#eee8aa"]},
        "legend": {"title": null, "orient": "none", "legendX": 351, "legendY": 8, "padding": 4, "fillColor": "rgba(255,255,255,0.8)", "strokeColor": "#cccccc", "cornerRadius": 4, "symbolType": "M 0.5 0 A 0.58 0.58 0 1 1 1.66 0 A 0.58 0.58 0 1 1 0.5 0 Z M 1.08 -1 L 1.08 1 M 0.5 -1 L 1.66 -1 M 0.5 1 L 1.66 1", "symbolSize": 576, "symbolStrokeWidth": 1.8, "symbolOpacity": 1, "rowPadding": -2, "labelOffset": 37, "labelFontSize": 19.8}}}},
    {"data": {"name": "mw"}, "mark": {"type": "errorbar", "ticks": {"size": 14, "thickness": 1.5}, "thickness": 1.5},
     "encoding": {"y": {"field": "lo", "type": "quantitative"}, "y2": {"field": "hi"}, "color": {"field": "s", "type": "nominal",
        "scale": {"domain": ["BSW July","MW 07-02","MW 07-04","MW 07-07","MW 07-11","MW 07-13","MW 07-16","MW 07-20","MW 07-23","MW 07-28"], "range": ["transparent","#4169e1","#6495ed","#87ceeb","#b0e0e6","#bccb7e","#d2b48c","#daa520","#ffd700","#eee8aa"]},
        "legend": {"title": null, "orient": "none", "legendX": 351, "legendY": 8, "padding": 4, "fillColor": "rgba(255,255,255,0.8)", "strokeColor": "#cccccc", "cornerRadius": 4, "symbolType": "M 0.5 0 A 0.58 0.58 0 1 1 1.66 0 A 0.58 0.58 0 1 1 0.5 0 Z M 1.08 -1 L 1.08 1 M 0.5 -1 L 1.66 -1 M 0.5 1 L 1.66 1", "symbolSize": 576, "symbolStrokeWidth": 1.8, "symbolOpacity": 1, "rowPadding": -2, "labelOffset": 37, "labelFontSize": 19.8}}}},
    {"data": {"name": "mw"}, "mark": {"type": "circle", "size": 155, "opacity": 1, "clip": true},
     "encoding": {"color": {"field": "s", "type": "nominal",
        "legend": {"title": null, "orient": "none", "legendX": 351, "legendY": 8, "padding": 4, "fillColor": "rgba(255,255,255,0.8)", "strokeColor": "#cccccc", "cornerRadius": 4, "symbolType": "M 0.5 0 A 0.58 0.58 0 1 1 1.66 0 A 0.58 0.58 0 1 1 0.5 0 Z M 1.08 -1 L 1.08 1 M 0.5 -1 L 1.66 -1 M 0.5 1 L 1.66 1", "symbolSize": 576, "symbolStrokeWidth": 1.8, "symbolOpacity": 1, "rowPadding": -2, "labelOffset": 37, "labelFontSize": 19.8}}}},
    {"data": {"values": [{}]}, "mark": {"type": "text", "text": "a)", "fontWeight": "bold", "fontSize": 20, "align": "left", "baseline": "middle", "color": "black"},
     "encoding": {"x": {"datum": -34, "type": "quantitative"}, "y": {"datum": 550000, "type": "quantitative"}}}
  ]
},
{
  "width": 533, "height": 521,
  "encoding": {
    "x": {"field": "t", "type": "quantitative", "scale": {"domain": [-35, 0], "nice": false, "zero": false}, "axis": {"values": [-35,-30,-25,-20,-15,-10,-5,0], "grid": true, "title": "Temperature (°C)", "titlePadding": 6, "labelExpr": "replace(datum.label, '-', '−')"}},
    "y": {"field": "v", "type": "quantitative", "scale": {"type": "log", "domain": [0.1, 1000000], "nice": false}, "axis": {"title": null, "labels": false, "grid": true,
      "values": [0.1,0.2,0.3,0.4,0.5,0.6,0.7,0.8,0.9,1,2,3,4,5,6,7,8,9,10,20,30,40,50,60,70,80,90,100,200,300,400,500,600,700,800,900,1000,2000,3000,4000,5000,6000,7000,8000,9000,10000,20000,30000,40000,50000,60000,70000,80000,90000,100000,200000,300000,400000,500000,600000,700000,800000,900000,1000000],
      "tickSize": {"condition": {"test": "indexof([0.1,1,10,100,1000,10000,100000,1000000], datum.value) >= 0", "value": 7}, "value": 4},
      "gridOpacity": {"condition": {"test": "indexof([0.1,1,10,100,1000,10000,100000,1000000], datum.value) >= 0", "value": 1}, "value": 0}}}
  },
  "layer": [
    {"data": {"name": "bsw"}, "mark": {"type": "circle", "size": 130, "opacity": 1, "clip": true},
     "encoding": {"color": {"datum": "BSW July", "type": "nominal",
        "scale": {"domain": ["BSW July","Sea ice","Meltwater","Snow"], "range": ["#708090","transparent","transparent","transparent"]},
        "legend": {"title": null, "orient": "none", "legendX": 351, "legendY": 8, "padding": 8, "fillColor": "rgba(255,255,255,0.8)", "strokeColor": "#cccccc", "cornerRadius": 4, "symbolType": "M 0.63 0 A 1 1 0 1 1 2.63 0 A 1 1 0 1 1 0.63 0 Z", "symbolSize": 150, "symbolStrokeWidth": 1.8, "symbolOpacity": 1, "rowPadding": 9, "labelOffset": 38, "labelFontSize": 19.8}}}},
    {"data": {"name": "ice"}, "mark": {"type": "point", "shape": "circle", "filled": false, "size": 115, "strokeWidth": 1.7, "opacity": 1, "clip": true},
     "encoding": {"stroke": {"datum": "Sea ice", "type": "nominal",
        "scale": {"domain": ["BSW July","Sea ice","Meltwater","Snow"], "range": ["#708090","#87ceeb","#ffd700","#0a4a8a"]},
        "legend": {"title": null, "orient": "none", "legendX": 351, "legendY": 8, "padding": 8, "fillColor": "rgba(255,255,255,0.8)", "strokeColor": "#cccccc", "cornerRadius": 4, "symbolType": "M 0.63 0 A 1 1 0 1 1 2.63 0 A 1 1 0 1 1 0.63 0 Z", "symbolSize": 150, "symbolStrokeWidth": 1.8, "symbolOpacity": 1, "rowPadding": 9, "labelOffset": 38, "labelFontSize": 19.8}}}},
    {"data": {"name": "mw"}, "mark": {"type": "point", "shape": "circle", "filled": false, "size": 115, "strokeWidth": 1.7, "opacity": 1, "clip": true},
     "encoding": {"stroke": {"datum": "Meltwater", "type": "nominal",
        "legend": {"title": null, "orient": "none", "legendX": 351, "legendY": 8, "padding": 8, "fillColor": "rgba(255,255,255,0.8)", "strokeColor": "#cccccc", "cornerRadius": 4, "symbolType": "M 0.63 0 A 1 1 0 1 1 2.63 0 A 1 1 0 1 1 0.63 0 Z", "symbolSize": 150, "symbolStrokeWidth": 1.8, "symbolOpacity": 1, "rowPadding": 9, "labelOffset": 38, "labelFontSize": 19.8}}}},
    {"data": {"name": "snow"}, "mark": {"type": "point", "shape": "circle", "filled": false, "size": 115, "strokeWidth": 1.9, "opacity": 1, "clip": true},
     "encoding": {"stroke": {"datum": "Snow", "type": "nominal",
        "legend": {"title": null, "orient": "none", "legendX": 351, "legendY": 8, "padding": 8, "fillColor": "rgba(255,255,255,0.8)", "strokeColor": "#cccccc", "cornerRadius": 4, "symbolType": "M 0.63 0 A 1 1 0 1 1 2.63 0 A 1 1 0 1 1 0.63 0 Z", "symbolSize": 150, "symbolStrokeWidth": 1.8, "symbolOpacity": 1, "rowPadding": 9, "labelOffset": 38, "labelFontSize": 19.8}}}},
    {"data": {"values": [{}]}, "mark": {"type": "text", "text": "b)", "fontWeight": "bold", "fontSize": 20, "align": "left", "baseline": "middle", "color": "black"},
     "encoding": {"x": {"datum": -34, "type": "quantitative"}, "y": {"datum": 550000, "type": "quantitative"}}}
  ]
},
{
  "width": 535, "height": 287,
  "layer": [
    {"data": {"name": "fc"}, "mark": {"type": "bar", "stroke": "#000080", "strokeWidth": 1.5, "opacity": 1},
     "encoding": {
       "x": {"field": "x", "type": "nominal", "sort": ["MW 7-04","MW 7-11","MW 7-16","MW 7-20","MW 7-28"], "scale": {"paddingInner": 0.4, "paddingOuter": 0.27}, "axis": {"title": null, "labelAngle": -30, "labelAlign": "center", "labelBaseline": "middle", "labelPadding": 41, "labelFontSize": 18.5}},
       "y": {"field": "f", "type": "quantitative", "stack": "zero", "scale": {"domain": [0, 1.066], "nice": false}, "axis": {"title": "Fraction", "titlePadding": 12, "values": [0,0.2,0.4,0.6,0.8,1], "format": ".1f"}},
       "order": {"field": "k", "type": "nominal", "sort": "ascending"},
       "color": {"field": "k", "type": "nominal", "scale": {"domain": ["Heat-labile","Heat-stable organic","Inorganic"], "range": ["#adbf6a","#f0e68c","#c0c0c0"]},
         "legend": {"title": null, "orient": "none", "legendX": 255, "legendY": 366, "direction": "horizontal", "padding": 10, "fillColor": "white", "strokeColor": "#cccccc", "cornerRadius": 4, "symbolType": "M -1 -1 L 4.38 -1 L 4.38 1 L -1 1 Z", "symbolSize": 256, "symbolStrokeColor": "#000080", "symbolStrokeWidth": 1.5, "symbolOpacity": 1, "labelOffset": 42, "columnPadding": 42, "labelFontSize": 19}}
     }},
    {"data": {"values": [{}]}, "mark": {"type": "rect", "fill": "white", "stroke": "black", "strokeWidth": 2},
     "encoding": {"x": {"datum": "MW 7-04", "type": "nominal", "bandPosition": -0.34}, "x2": {"datum": "MW 7-11", "bandPosition": 1.42}, "y": {"datum": 0.046, "type": "quantitative"}, "y2": {"datum": 0.191}}},
    {"data": {"values": [{}]}, "mark": {"type": "text", "text": "c) T = -13.5 °C", "fontWeight": "bold", "fontSize": 22, "align": "left", "baseline": "middle", "color": "black"},
     "encoding": {"x": {"datum": "MW 7-04", "type": "nominal", "bandPosition": -0.24}, "y": {"datum": 0.1185, "type": "quantitative"}}}
  ]
},
{
  "width": 533, "height": 287,
  "layer": [
    {"data": {"name": "fd"}, "mark": {"type": "bar", "stroke": "#000080", "strokeWidth": 1.5, "opacity": 1},
     "encoding": {
       "x": {"field": "x", "type": "nominal", "sort": ["MW 7-04","MW 7-11","MW 7-16","MW 7-20","MW 7-28"], "scale": {"paddingInner": 0.4, "paddingOuter": 0.27}, "axis": {"title": null, "labelAngle": -30, "labelAlign": "center", "labelBaseline": "middle", "labelPadding": 41, "labelFontSize": 18.5}},
       "y": {"field": "f", "type": "quantitative", "stack": "zero", "scale": {"domain": [0, 1.051], "nice": false}, "axis": {"title": null, "labels": false, "values": [0,0.2,0.4,0.6,0.8,1]}},
       "order": {"field": "k", "type": "nominal", "sort": "ascending"},
       "color": {"field": "k", "type": "nominal", "scale": {"domain": ["Heat-labile","Heat-stable organic","Inorganic"], "range": ["#adbf6a","#f0e68c","#c0c0c0"]}, "legend": null}
     }},
    {"data": {"values": [{}]}, "mark": {"type": "rect", "fill": "white", "stroke": "black", "strokeWidth": 2},
     "encoding": {"x": {"datum": "MW 7-04", "type": "nominal", "bandPosition": -0.37}, "x2": {"datum": "MW 7-11", "bandPosition": 1.40}, "y": {"datum": 0.045, "type": "quantitative"}, "y2": {"datum": 0.188}}},
    {"data": {"values": [{}]}, "mark": {"type": "text", "text": "d) T = -19.5 °C", "fontWeight": "bold", "fontSize": 22, "align": "left", "baseline": "middle", "color": "black"},
     "encoding": {"x": {"datum": "MW 7-04", "type": "nominal", "bandPosition": -0.27}, "y": {"datum": 0.1167, "type": "quantitative"}}}
  ]
}
]
}
